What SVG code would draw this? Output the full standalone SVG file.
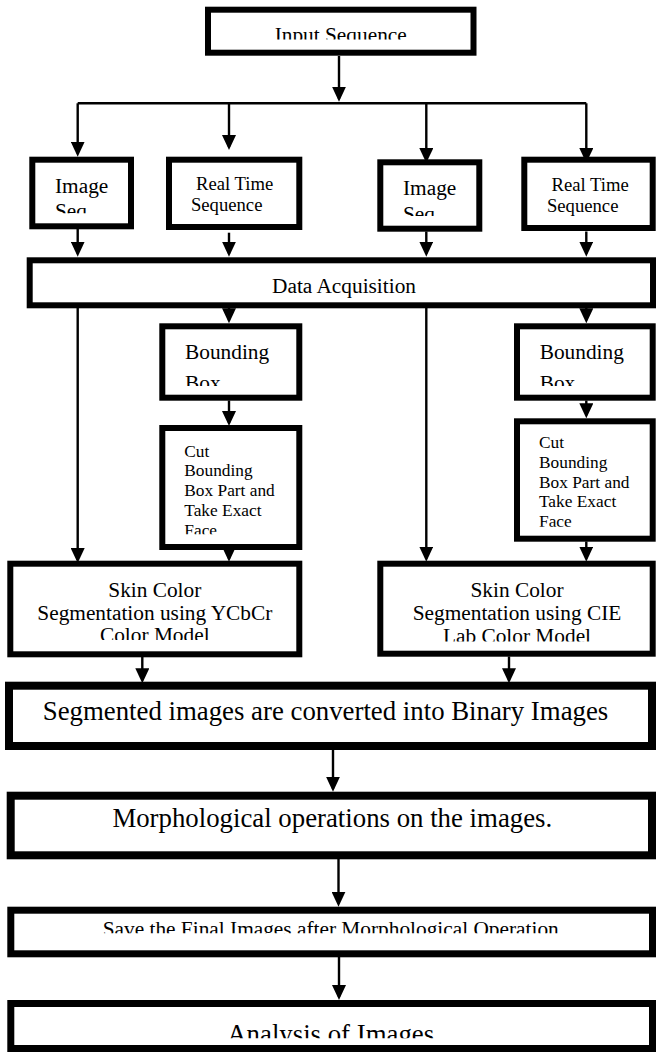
<svg xmlns="http://www.w3.org/2000/svg" width="656" height="1055" viewBox="0 0 656 1055">
<style>
  .box { fill: #fff; stroke: #000; stroke-width: 6; }
  .thick { stroke-width: 8; }
  .mid { stroke-width: 7; }
  .t { font-family: "Liberation Serif", "Times New Roman", serif; fill: #000; }
  .f21 { font-size: 21.33px; }
  .f19 { font-size: 18.67px; }
  .f17 { font-size: 17.33px; }
  .f27 { font-size: 26.8px; }
  .c { text-anchor: middle; }
  .conn line, .conn polyline { stroke: #000; stroke-width: 2.4; fill: none; }
  .arr { marker-end: url(#ah); }
</style>
<defs>
  <marker id="ah" viewBox="0 0 15 14" refX="12" refY="7" markerWidth="15" markerHeight="14" markerUnits="userSpaceOnUse" orient="auto">
    <path d="M0,0 L15,7 L0,14 z" fill="#000"/>
  </marker>
  <clipPath id="cInput"><rect x="211" y="12" width="260" height="27.5"/></clipPath>
  <clipPath id="cImgA"><rect x="35" y="165" width="94" height="48.3"/></clipPath>
  <clipPath id="cImgB"><rect x="383" y="165" width="94" height="51"/></clipPath>
  <clipPath id="cBbA"><rect x="165" y="329" width="131" height="57"/></clipPath>
  <clipPath id="cBbB"><rect x="520" y="329" width="130" height="57"/></clipPath>
  <clipPath id="cCutA"><rect x="165" y="431" width="131" height="103.3"/></clipPath>
  <clipPath id="cCutB"><rect x="520" y="424" width="130" height="102.7"/></clipPath>
  <clipPath id="cSkinA"><rect x="13" y="566" width="283" height="74"/></clipPath>
  <clipPath id="cSkinB"><rect x="383" y="566" width="267" height="75.5"/></clipPath>
  <clipPath id="cSave"><rect x="14" y="913" width="635" height="20.3"/></clipPath>
  <clipPath id="cAnal"><rect x="14" y="1007" width="635" height="31.3"/></clipPath>
</defs>
<rect width="656" height="1055" fill="#fff"/>

<g id="connectors" class="conn">
  <line class="arr" x1="339" y1="56" x2="339" y2="98.7"/>
  <line x1="77.7" y1="103.3" x2="586.3" y2="103.3"/>
  <line class="arr" x1="77.7" y1="103.3" x2="77.7" y2="153.7"/>
  <line class="arr" x1="229" y1="103.3" x2="229" y2="147"/>
  <line class="arr" x1="426.3" y1="103.3" x2="426.3" y2="160"/>
  <line class="arr" x1="586.3" y1="103.3" x2="586.3" y2="160"/>
  <line class="arr" x1="77.7" y1="229" x2="77.7" y2="253.7"/>
  <line class="arr" x1="229" y1="232.7" x2="229" y2="253.7"/>
  <line class="arr" x1="426.3" y1="231.5" x2="426.3" y2="253.7"/>
  <line class="arr" x1="586.3" y1="231.5" x2="586.3" y2="253.7"/>
  <line class="arr" x1="77.7" y1="308" x2="77.7" y2="560"/>
  <line class="arr" x1="229" y1="308" x2="229" y2="320.3"/>
  <line class="arr" x1="426.3" y1="308" x2="426.3" y2="558.7"/>
  <line class="arr" x1="586.3" y1="308" x2="586.3" y2="320.3"/>
  <line class="arr" x1="229" y1="400.5" x2="229" y2="423"/>
  <line class="arr" x1="586.3" y1="400.5" x2="586.3" y2="415.3"/>
  <line class="arr" x1="229" y1="549.5" x2="229" y2="558.7"/>
  <line class="arr" x1="586.3" y1="541.5" x2="586.3" y2="558.7"/>
  <line class="arr" x1="142.3" y1="657" x2="142.3" y2="680.3"/>
  <line class="arr" x1="509" y1="656.5" x2="509" y2="680.3"/>
  <line class="arr" x1="333" y1="750" x2="333" y2="788.7"/>
  <line class="arr" x1="338.5" y1="859" x2="338.5" y2="903.7"/>
  <line class="arr" x1="339" y1="957" x2="339" y2="997"/>
</g>

<g id="input">
  <rect class="box" x="208" y="9.7" width="265.5" height="43"/>
  <text class="t f21 c" x="340.7" y="42.4" clip-path="url(#cInput)">Input Sequence</text>
</g>

<g id="image-seq-1">
  <rect class="box" x="32.3" y="159.7" width="98.7" height="66.6"/>
  <g clip-path="url(#cImgA)">
    <text class="t f21" x="55" y="192.7">Image</text>
    <text class="t f21" x="55" y="218.3">Seq</text>
  </g>
</g>

<g id="real-time-1">
  <rect class="box" x="169" y="159.7" width="130.3" height="67.3"/>
  <text class="t f19 c" x="234.7" y="190">Real Time</text>
  <text class="t f19 c" x="226.7" y="210.7">Sequence</text>
</g>

<g id="image-seq-2">
  <rect class="box" x="380.3" y="162.3" width="99" height="66.4"/>
  <g clip-path="url(#cImgB)">
    <text class="t f21" x="403" y="195.3">Image</text>
    <text class="t f21" x="403" y="221">Seq</text>
  </g>
</g>

<g id="real-time-2">
  <rect class="box" x="524.3" y="159.7" width="128.4" height="68.3"/>
  <text class="t f19 c" x="590.2" y="190.7">Real Time</text>
  <text class="t f19 c" x="582.7" y="211.7">Sequence</text>
</g>

<g id="data-acquisition">
  <rect class="box" x="29.7" y="260.3" width="623.3" height="45"/>
  <text class="t f21 c" x="344" y="292.7">Data Acquisition</text>
</g>

<g id="bounding-box-1">
  <rect class="box" x="162.3" y="326.3" width="137" height="71.4"/>
  <g clip-path="url(#cBbA)">
    <text class="t f21" x="185" y="358.5">Bounding</text>
    <text class="t f21" x="185" y="389.5">Box</text>
  </g>
</g>

<g id="bounding-box-2">
  <rect class="box" x="517" y="326.3" width="135.7" height="71.4"/>
  <g clip-path="url(#cBbB)">
    <text class="t f21" x="539.7" y="358.5">Bounding</text>
    <text class="t f21" x="539.7" y="389.5">Box</text>
  </g>
</g>

<g id="cut-1">
  <rect class="box" x="162.3" y="428" width="137" height="119"/>
  <g clip-path="url(#cCutA)">
    <text class="t f17" x="184.3" y="456.7">Cut</text>
    <text class="t f17" x="184.3" y="476.4">Bounding</text>
    <text class="t f17" x="184.3" y="496.1">Box Part and</text>
    <text class="t f17" x="184.3" y="515.8">Take Exact</text>
    <text class="t f17" x="184.3" y="535.5">Face</text>
  </g>
</g>

<g id="cut-2">
  <rect class="box" x="517" y="421.3" width="135.7" height="117.4"/>
  <g clip-path="url(#cCutB)">
    <text class="t f17" x="539" y="448.3">Cut</text>
    <text class="t f17" x="539" y="468">Bounding</text>
    <text class="t f17" x="539" y="487.7">Box Part and</text>
    <text class="t f17" x="539" y="507.4">Take Exact</text>
    <text class="t f17" x="539" y="527.1">Face</text>
  </g>
</g>

<g id="skin-ycbcr">
  <rect class="box" x="10.3" y="563.7" width="289" height="90.6"/>
  <g clip-path="url(#cSkinA)">
    <text class="t f21 c" x="154.8" y="596.7">Skin Color</text>
    <text class="t f21 c" x="154.8" y="619.5">Segmentation using YCbCr</text>
    <text class="t f21 c" x="154.8" y="642.3">Color Model</text>
  </g>
</g>

<g id="skin-cielab">
  <rect class="box" x="380.3" y="563.7" width="272.4" height="90"/>
  <g clip-path="url(#cSkinB)">
    <text class="t f21 c" x="517" y="596.7">Skin Color</text>
    <text class="t f21 c" x="517" y="619.5">Segmentation using CIE</text>
    <text class="t f21 c" x="517" y="643.4">Lab Color Model</text>
  </g>
</g>

<g id="binary">
  <rect class="box thick" x="9" y="685.7" width="643" height="60.3"/>
  <text class="t f27 c" x="325.5" y="720">Segmented images are converted into Binary Images</text>
</g>

<g id="morphological">
  <rect class="box thick" x="10.7" y="795.7" width="641.3" height="59.6"/>
  <text class="t f27 c" x="332.3" y="826.7">Morphological operations on the images.</text>
</g>

<g id="save">
  <rect class="box mid" x="10.8" y="910.2" width="641.7" height="43.6"/>
  <text class="t f21 c" x="330.7" y="935.8" clip-path="url(#cSave)">Save the Final Images after Morphological Operation</text>
</g>

<g id="analysis">
  <rect class="box mid" x="10.8" y="1003.5" width="641.7" height="45"/>
  <text class="t f27 c" x="330.7" y="1042.7" clip-path="url(#cAnal)">Analysis of Images</text>
</g>
</svg>
